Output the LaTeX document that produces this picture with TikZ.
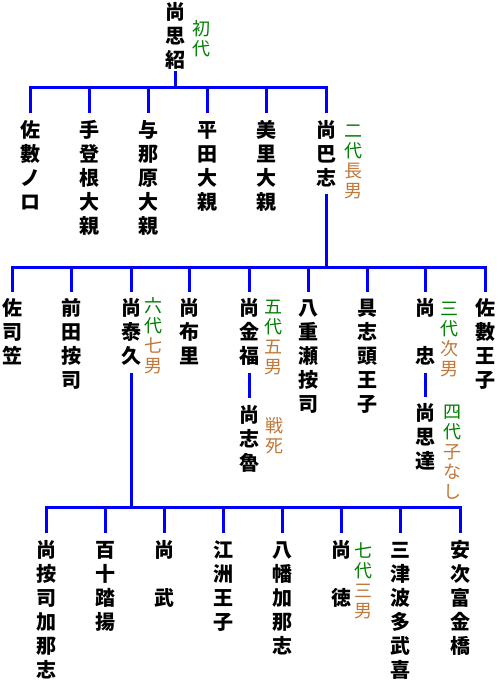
\documentclass[tikz,border=0pt]{standalone}
\usepackage{fontspec}
\newfontfamily\jp{Noto Sans CJK JP}
\definecolor{gen}{RGB}{0,128,0}
\definecolor{sex}{RGB}{192,120,56}
\definecolor{lineblue}{RGB}{0,0,255}
\newcommand\tps{\rule{0pt}{17pt}}
\newcommand\tpa{\rule{0pt}{15pt}}
\newcommand\bts{\rule[-4pt]{0pt}{4pt}}
\newcommand\gn[1]{\textcolor{gen}{#1}}
\newcommand\br[1]{\textcolor{sex}{#1}}
\tikzset{
  nm/.style={font=\jp\bfseries\fontsize{20}{24}\selectfont, align=center, inner sep=0pt, anchor=north},
  an/.style={font=\jp\fontsize{18}{20}\selectfont, align=center, inner sep=0pt, anchor=north},
  ln/.style={draw=lineblue, line width=3pt},
}
\begin{document}
\begin{tikzpicture}[x=1pt,y=-1pt]
\fill[white] (0,0) rectangle (499,687);
\useasboundingbox (0,0) rectangle (499,687);

% generation 0
\node[nm] (shishou) at (175,2) {\tps 尚\\思\\紹\bts};
\node[an] (a0) at (201,20) {\tpa\gn{初}\\\gn{代}};
\coordinate (j0) at (175,88);

% generation 1
\node[nm] (c11) at (30,120) {\tps 佐\\數\\ノ\\ロ};
\node[nm] (c12) at (89,120) {\tps 手\\登\\根\\大\\親};
\node[nm] (c13) at (148,120) {\tps 与\\那\\原\\大\\親};
\node[nm] (c14) at (207,120) {\tps 平\\田\\大\\親};
\node[nm] (c15) at (266,120) {\tps 美\\里\\大\\親};
\node[nm] (hashi) at (326,120) {\tps 尚\\巴\\志\bts};
\node[an] (a1) at (353,122) {\tpa\gn{二}\\\gn{代}\\\br{長}\\\br{男}};
\coordinate (j1) at (326,267);

\draw[ln] (shishou.south) -- (j0);
\foreach \c in {c11,c12,c13,c14,c15,hashi}
  \draw[ln] (j0) -| ([yshift=7pt]\c.north);

% generation 2
\node[nm] (c21) at (12,298) {\tps 佐\\司\\笠};
\node[nm] (c22) at (71,298) {\tps 前\\田\\按\\司};
\node[nm] (taikyu) at (131,298) {\tps 尚\\泰\\久\bts};
\node[an] (a2) at (153,297) {\tpa\gn{六}\\\gn{代}\\\br{七}\\\br{男}};
\node[nm] (c24) at (189,298) {\tps 尚\\布\\里};
\node[nm] (kinpuku) at (249,298) {\tps 尚\\金\\福\bts};
\node[an] (a3) at (273,298) {\tpa\gn{五}\\\gn{代}\\\br{五}\\\br{男}};
\node[nm] (c26) at (308,298) {\tps 八\\重\\瀬\\按\\司};
\node[nm] (c27) at (367,298) {\tps 具\\志\\頭\\王\\子};
\node[nm] (chu) at (425,298) {\tps 尚\\　\\忠\bts};
\node[an] (a4) at (449,300) {\tpa\gn{三}\\\gn{代}\\\br{次}\\\br{男}};
\node[nm] (c29) at (485,298) {\tps 佐\\數\\王\\子};

\draw[ln] ([yshift=-4pt]hashi.south) -- (j1);
\foreach \c in {c21,c22,taikyu,c24,kinpuku,c26,c27,chu,c29}
  \draw[ln] (j1) -| ([yshift=6pt]\c.north);

\node[nm] (shiro) at (249,405) {\tps 尚\\志\\魯};
\node[an] (a5) at (274,417) {\tpa\br{戦}\\\br{死}};
\draw[ln] ([yshift=-5pt]kinpuku.south) -- ([yshift=7pt]shiro.north);

\node[nm] (shitatsu) at (425,403) {\tps 尚\\思\\達};
\node[an] (a6) at (452,403) {\tpa\gn{四}\\\gn{代}\\\br{子}\\\br{な}\\\br{し}};
\draw[ln] ([yshift=-5pt]chu.south) -- ([yshift=6pt]shitatsu.north);

% generation 3
\coordinate (j2) at (131,507);
\draw[ln] ([yshift=-5pt]taikyu.south) -- (j2);

\node[nm] (c31) at (46,540) {\tps 尚\\按\\司\\加\\那\\志};
\node[nm] (c32) at (105,540) {\tps 百\\十\\踏\\揚};
\node[nm] (c33) at (164,540) {\tps 尚\\　\\武};
\node[nm] (c34) at (223,540) {\tps 江\\洲\\王\\子};
\node[nm] (c35) at (282,540) {\tps 八\\幡\\加\\那\\志};
\node[nm] (c36) at (341,540) {\tps 尚\\　\\徳};
\node[an] (a7) at (363,542) {\tpa\gn{七}\\\gn{代}\\\br{三}\\\br{男}};
\node[nm] (c37) at (400,540) {\tps 三\\津\\波\\多\\武\\喜};
\node[nm] (c38) at (460,540) {\tps 安\\次\\富\\金\\橋};

\foreach \c in {c31,c32,c33,c34,c35,c36,c37,c38}
  \draw[ln] (j2) -| ([yshift=7pt]\c.north);
\end{tikzpicture}
\end{document}
